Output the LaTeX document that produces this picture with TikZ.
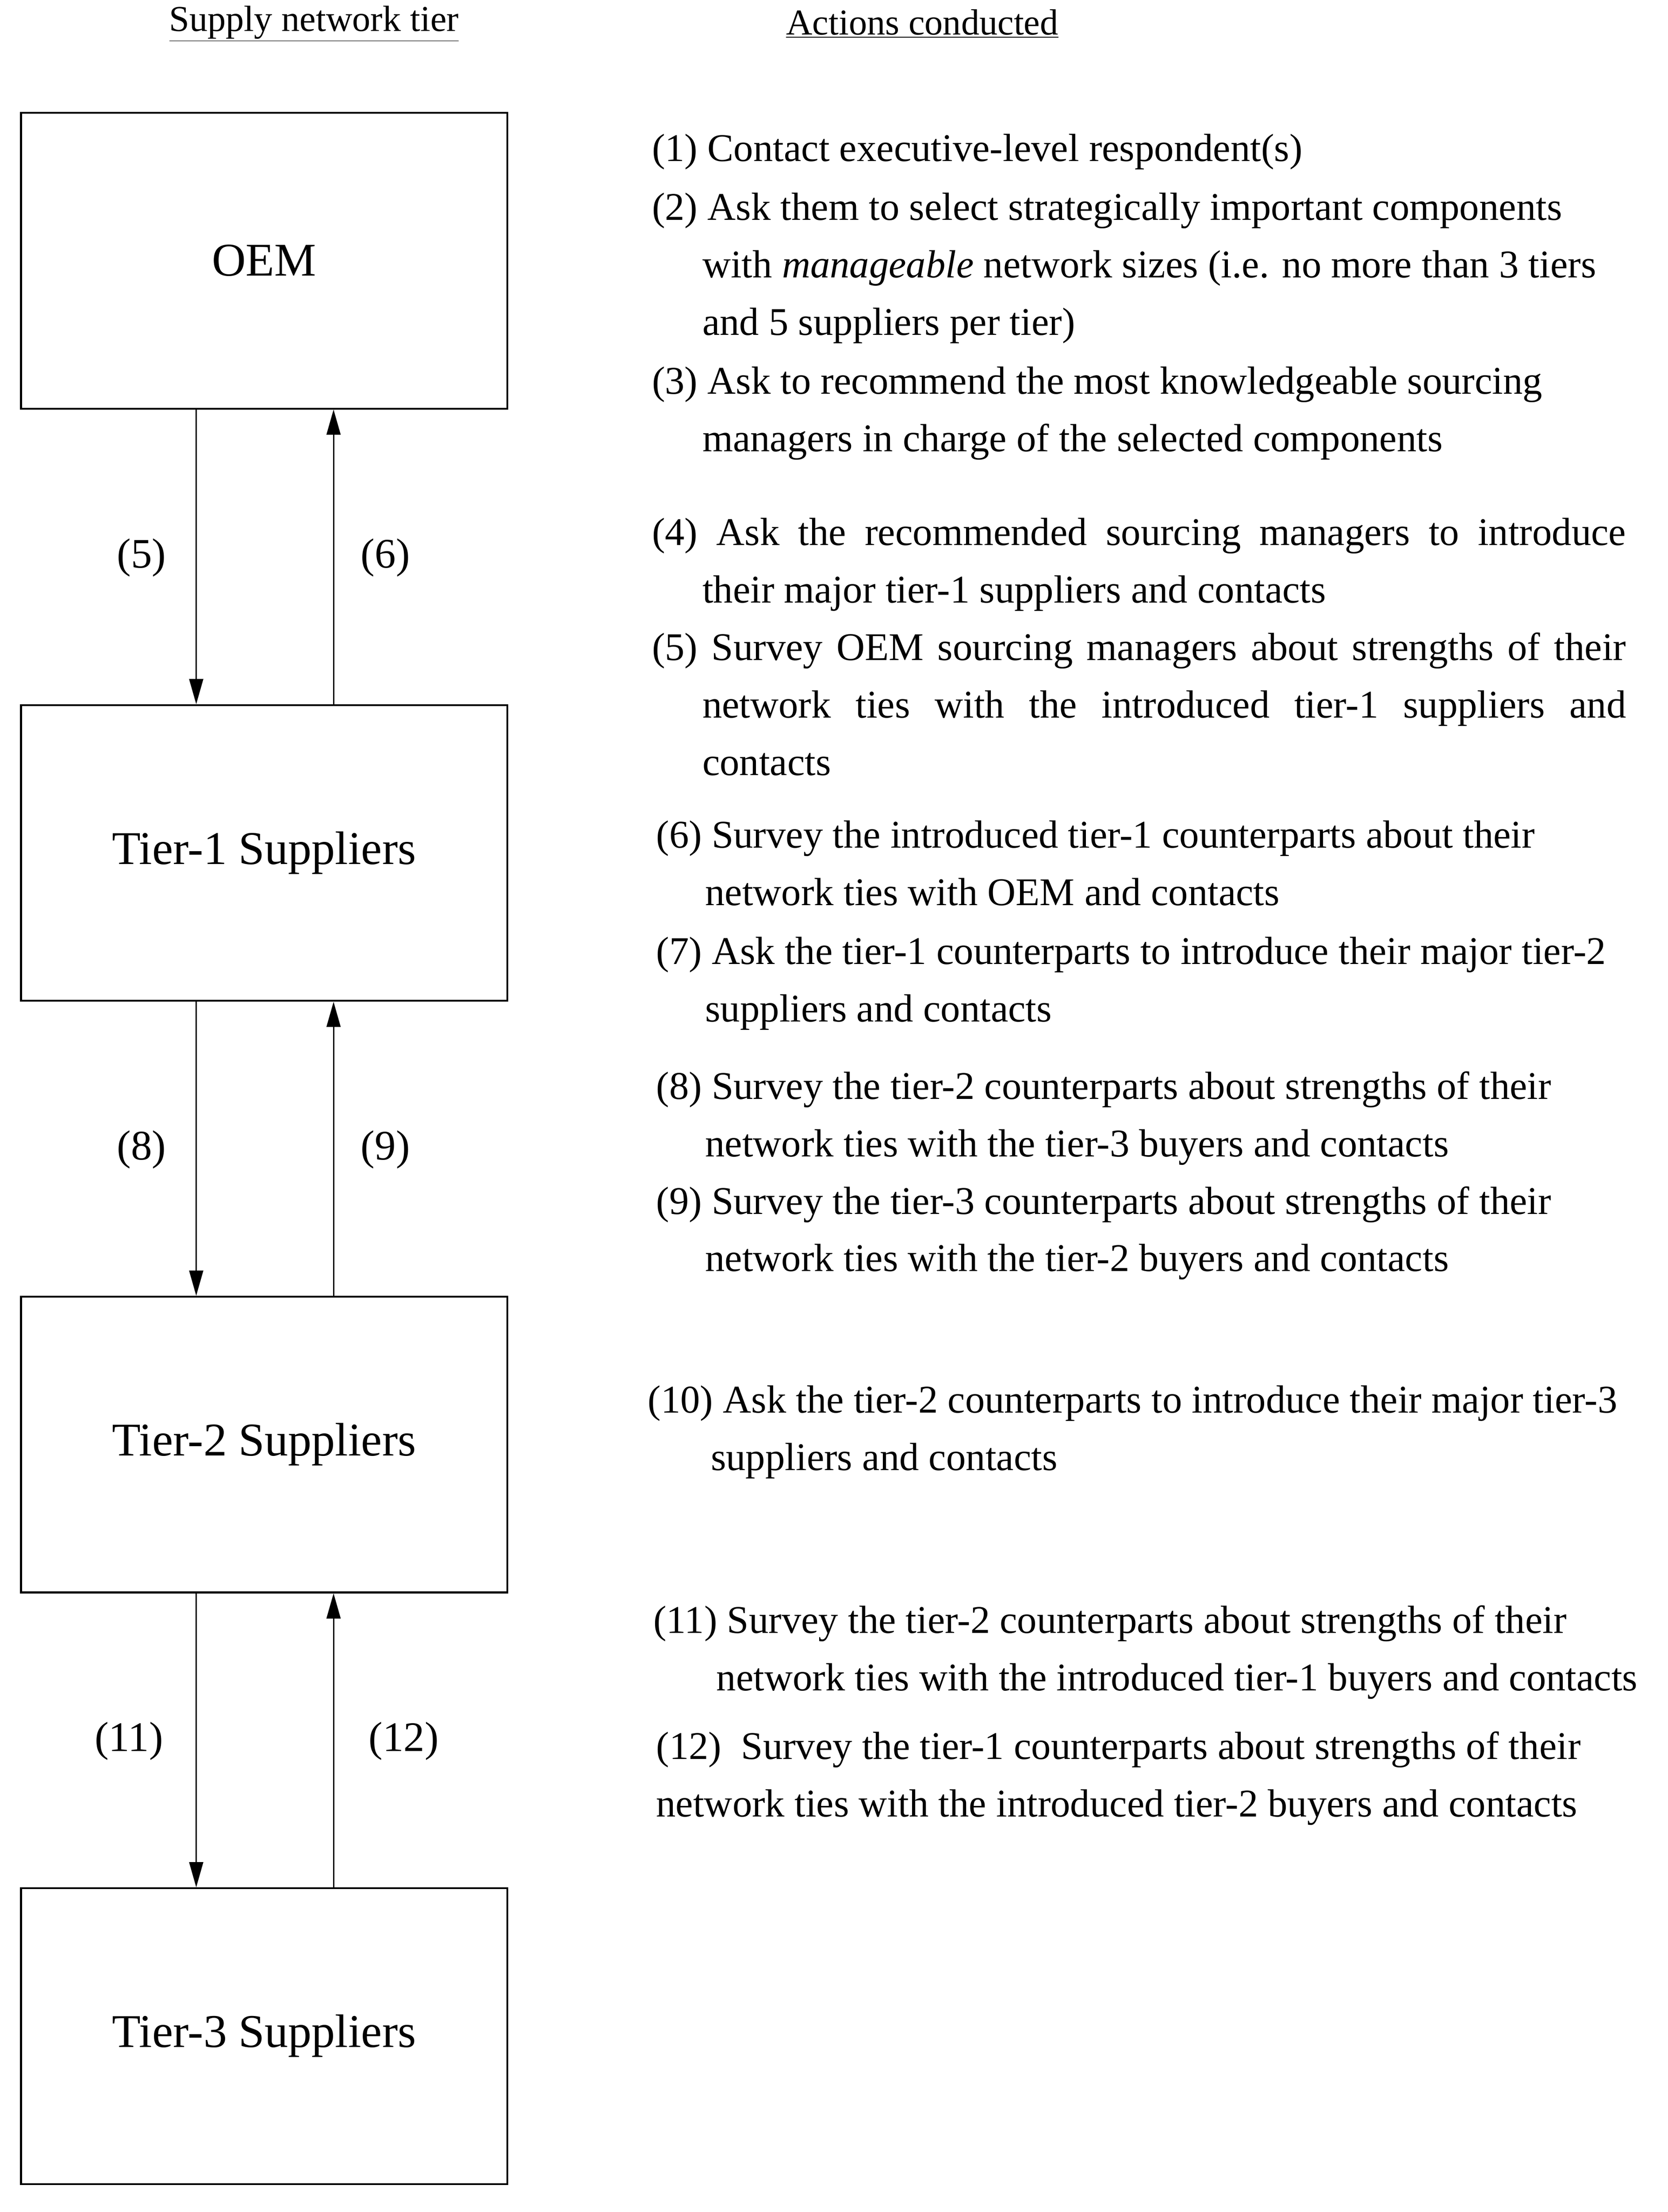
\documentclass[tikz,border=0pt]{standalone}
\usepackage{fontspec}
\setmainfont{Liberation Serif}
\usetikzlibrary{arrows.meta}
\begin{document}
\begin{tikzpicture}[x=1pt,y=-1pt,
 box/.style={draw,line width=1.3pt,minimum width=347pt,minimum height=211pt,inner sep=0,font=\fontsize{33.5}{38}\selectfont},
 arr/.style={line width=0.9pt,-{Triangle[length=18pt,width=10pt]}},
 lab/.style={font=\fontsize{30}{34}\selectfont},
 tl/.style={anchor=base west,inner sep=0,font=\fontsize{28}{32}\selectfont},
 hd/.style={font=\fontsize{26}{30}\selectfont}]
\useasboundingbox (0,0) rectangle (1190,1578);
\node[hd] (h1) at (224,17) {\underline{Supply network tier}};
\node[hd] (h2) at (658,17) {\underline{Actions conducted}};
\node[box] (oem) at (188.5,186) {OEM};
\node[box] (t1) at (188.5,608.5) {Tier-1 Suppliers};
\node[box] (t2) at (188.5,1030.5) {Tier-2 Suppliers};
\node[box] (t3) at (188.5,1452.5) {Tier-3 Suppliers};
\foreach \a/\b/\y/\l/\r/\xl/\xr in {oem/t1/398/(5)/(6)/101/275, t1/t2/820/(8)/(9)/101/275, t2/t3/1242/(11)/(12)/92/288}{
 \draw[arr] (\a.south -| 140,0) -- (\b.north -| 140,0);
 \draw[arr] (\b.north -| 238,0) -- (\a.south -| 238,0);
 \node[lab] at (\xl,\y) {\l};
 \node[lab] at (\xr,\y) {\r};
}
\newcommand\tline[3]{\node[tl] at (#1,#2) {#3};}
\newcommand\jline[4]{\node[tl] at (#1,#2) {\makebox[#3][s]{#4}};}
\tline{465}{115}{(1) Contact executive-level respondent(s)}
\tline{465}{157}{(2) Ask them to select strategically important components}
\tline{501}{198}{with \textit{manageable} network sizes (i.e. no more than 3 tiers}
\tline{501}{239}{and 5 suppliers per tier)}
\tline{465}{281}{(3) Ask to recommend the most knowledgeable sourcing}
\tline{501}{322}{managers in charge of the selected components}
\jline{465}{389}{695pt}{(4) Ask the recommended sourcing managers to introduce}
\tline{501}{430}{their major tier-1 suppliers and contacts}
\jline{465}{471}{695pt}{(5) Survey OEM sourcing managers about strengths of their}
\jline{501}{512}{659pt}{network ties with the introduced tier-1 suppliers and}
\tline{501}{553}{contacts}
\tline{468}{605}{(6) Survey the introduced tier-1 counterparts about their}
\tline{503}{646}{network ties with OEM and contacts}
\tline{468}{688}{(7) Ask the tier-1 counterparts to introduce their major tier-2}
\tline{503}{729}{suppliers and contacts}
\tline{468}{784}{(8) Survey the tier-2 counterparts about strengths of their}
\tline{503}{825}{network ties with the tier-3 buyers and contacts}
\tline{468}{866}{(9) Survey the tier-3 counterparts about strengths of their}
\tline{503}{907}{network ties with the tier-2 buyers and contacts}
\tline{462}{1008}{(10) Ask the tier-2 counterparts to introduce their major tier-3}
\tline{507}{1049}{suppliers and contacts}
\tline{466}{1165}{(11) Survey the tier-2 counterparts about strengths of their}
\tline{511}{1206}{network ties with the introduced tier-1 buyers and contacts}
\tline{468}{1255}{(12)~ Survey the tier-1 counterparts about strengths of their}
\tline{468}{1296}{network ties with the introduced tier-2 buyers and contacts}
\end{tikzpicture}
\end{document}
